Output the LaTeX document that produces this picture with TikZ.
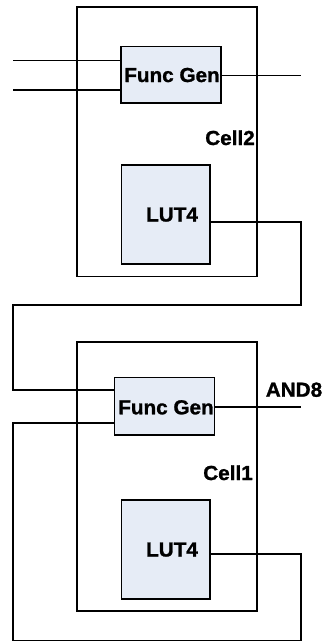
\documentclass[tikz,border=0pt]{standalone}
\usepackage{fontspec}
\setmainfont{Liberation Sans}[BoldFeatures={FakeBold=1.2}]
\definecolor{boxfill}{HTML}{E6ECF6}
\newcommand{\lbltext}[1]{\scalebox{1.02}[1]{\textbf{#1}}}
\begin{document}
\begin{tikzpicture}[x=1pt,y=-1pt,line width=1.6pt,line join=miter,
  cellbox/.style={draw,inner sep=0pt,anchor=north west,minimum width=180pt},
  blk/.style={draw,fill=boxfill,inner sep=0pt,anchor=north west},
  lbl/.style={font=\fontsize{20.3}{21}\selectfont\bfseries,inner sep=0pt,anchor=base}]
\useasboundingbox (0,0) rectangle (323,642);
% cells
\node[cellbox,minimum height=269.7pt] (cell2) at (76,6) {};
\node[cellbox,minimum height=268.7pt] (cell1) at (76,341.3) {};
% blocks
\node[blk,minimum width=100pt,minimum height=56.6pt] (fg2) at (120,45.7) {};
\node[blk,minimum width=88.6pt,minimum height=99.3pt] (lut2) at (120.7,164) {};
\node[blk,minimum width=100pt,minimum height=57.3pt] (fg1) at (113.7,376.7) {};
\node[blk,minimum width=88.6pt,minimum height=99.3pt] (lut1) at (120.7,499) {};
% labels
\node[lbl] (tfg2) at (172,82) {\lbltext{Func Gen}};
\node[lbl] (tcell2) at (230,145) {\lbltext{Cell2}};
\node[lbl] (tlut2) at (172,221.5) {\lbltext{LUT4}};
\node[lbl] (tfg1) at (166,414.3) {\lbltext{Func Gen}};
\node[lbl] (tand8) at (294,396.7) {\lbltext{AND8}};
\node[lbl] (tcell1) at (228,480) {\lbltext{Cell1}};
\node[lbl] (tlut1) at (172,556.5) {\lbltext{LUT4}};
% coordinates
\coordinate (in1) at (13,60.7);
\coordinate (in2) at (13,90);
\coordinate (out2) at (301,75.3);
\coordinate (r2) at (301,221.7);
\coordinate (r2b) at (301,305);
\coordinate (l2b) at (13,305);
\coordinate (l1a) at (13,390);
\coordinate (l1b) at (13,422.7);
\coordinate (l1c) at (13,640.5);
\coordinate (r1c) at (301,640.5);
\coordinate (r1) at (301,554);
\coordinate (out1) at (301,406.7);
% connectors
\draw (in1) -- (in1 -| fg2.west);
\draw (in2) -- (in2 -| fg2.west);
\draw (fg2.east |- out2) -- (out2);
\draw (lut2.east |- r2) -- (r2) -- (r2b) -- (l2b) -- (l1a) -- (l1a -| fg1.west);
\draw (fg1.west |- l1b) -- (l1b) -- (l1c) -- (r1c) -- (r1) -- (r1 -| lut1.east);
\draw (fg1.east |- out1) -- (out1);
\end{tikzpicture}
\end{document}
